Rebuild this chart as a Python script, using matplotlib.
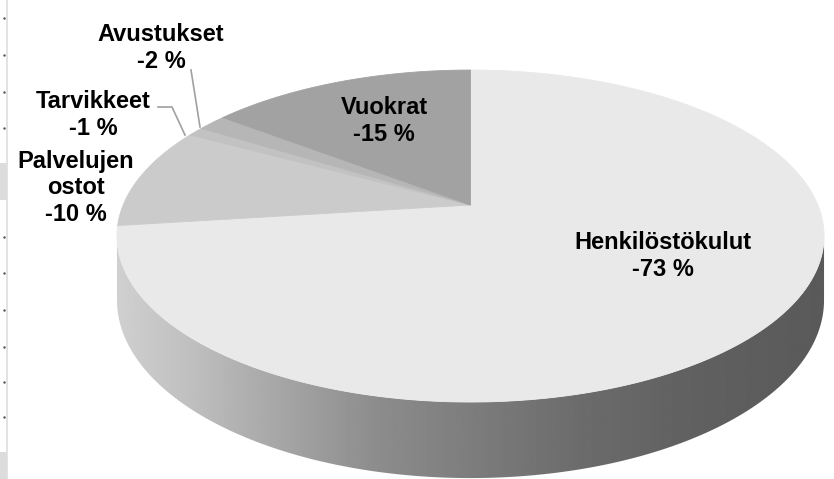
import numpy as np
import matplotlib
matplotlib.use("Agg")
import matplotlib.pyplot as plt
from matplotlib.patches import Polygon, Rectangle

# ---- data ----
categories = ["Henkilöstökulut", "Palvelujen\nostot", "Tarvikkeet", "Avustukset", "Vuokrat"]
values = [-73.0, -9.9, -0.9, -1.6, -14.6]
top_colors = ["#e9e9e9", "#cbcbcb", "#c2c2c2", "#b6b6b6", "#a2a2a2"]

W, H = 834, 479
fig = plt.figure(figsize=(W / 100, H / 100), dpi=100)
ax = fig.add_axes([0, 0, 1, 1])
ax.set_xlim(0, W)
ax.set_ylim(H, 0)
ax.axis("off")

# ---- 3D pie geometry (perspective projection) ----
cx, cy = 470.5, 205.0       # projected pie centre (vertex)
a, b, k, hgt = 347.3, 160.2, 0.187, 61.8


def proj(theta, z=0.0):
    x = np.cos(theta)
    y = np.sin(theta)
    w = 1 + k * y
    X = a * x / w
    Y = (b * y - hgt * z) / w
    return cx + X, cy - Y


mags = np.abs(np.array(values))
fracs = mags / mags.sum()
start = np.pi / 2
bounds = [start]
for f in fracs:
    bounds.append(bounds[-1] - 2 * np.pi * f)

# side (visible front arc)
s0 = np.pi + np.arcsin(k)
s1 = 2 * np.pi - np.arcsin(k)
x_knots = np.array([0.0, 0.1, 0.2, 0.37, 0.51, 0.65, 0.82, 1.0])
g_knots = np.array([208, 192, 172, 140, 124, 108, 96, 90]) / 255.0
for i in range(len(values)):
    t_hi, t_lo = bounds[i], bounds[i + 1]
    for shift in (0, 2 * np.pi, -2 * np.pi):
        lo = max(t_lo + shift, s0)
        hi = min(t_hi + shift, s1)
        if hi > lo:
            th = np.linspace(lo, hi, 200)
            xt, yt = proj(th, 0)
            xb, yb = proj(th[::-1], 1)
            pts = np.column_stack([np.r_[xt, xb], np.r_[yt, yb]])
            poly = Polygon(pts, closed=True, facecolor="none", edgecolor="none")
            ax.add_patch(poly)
            xs = np.linspace(cx - a * 1.02, cx + a * 1.02, 600)
            gx = np.interp((xs - xs[0]) / (xs[-1] - xs[0]), x_knots, g_knots)
            img = np.tile(gx, (10, 1))
            im = ax.imshow(img, cmap="gray", vmin=0, vmax=1, aspect="auto",
                           extent=(xs[0], xs[-1], cy + 300, cy - 60),
                           interpolation="bilinear", zorder=1)
            im.set_clip_path(poly)

# top faces
for i in range(len(values)):
    th = np.linspace(bounds[i], bounds[i + 1], 300)
    xt, yt = proj(th, 0)
    pts = np.column_stack([np.r_[cx, xt], np.r_[cy, yt]])
    ax.add_patch(Polygon(pts, closed=True, facecolor=top_colors[i],
                         edgecolor=top_colors[i], linewidth=0.6, zorder=2))

# ---- labels ----
font = dict(family=["Liberation Sans", "DejaVu Sans"], weight="bold",
            fontsize=17, ha="center", va="center", linespacing=1.18, zorder=5)
pct = [f"-{int(round(abs(v)))} %" for v in values]
label_pos = [(663, 256), (76, 188), (93, 115), (161, 48), (384, 121)]
for name, p, (lx, ly) in zip(categories, pct, label_pos):
    ax.text(lx, ly, f"{name}\n{p}", **font)

# leader lines
ax.plot([191, 200], [70, 127], color="#a0a0a0", lw=1.2, zorder=4)
ax.plot([158, 172, 185], [107, 107, 135], color="#a0a0a0", lw=1.2, zorder=4)

# ---- left margin artefacts ----
ax.add_patch(Rectangle((0, 163), 7, 37, facecolor="#dcdcdc", edgecolor="none"))
ax.add_patch(Rectangle((0, 452), 7, 27, facecolor="#dcdcdc", edgecolor="none"))
ax.plot([7.5, 7.5], [0, H], color="#dedede", lw=1.2)
dots_y = [18, 55, 92, 128, 237, 273, 310, 347, 382, 417]
ax.plot([4.5] * len(dots_y), dots_y, linestyle="none", marker="s",
        markersize=0.7, color="#555555")

fig.savefig("out.png", dpi=100)
